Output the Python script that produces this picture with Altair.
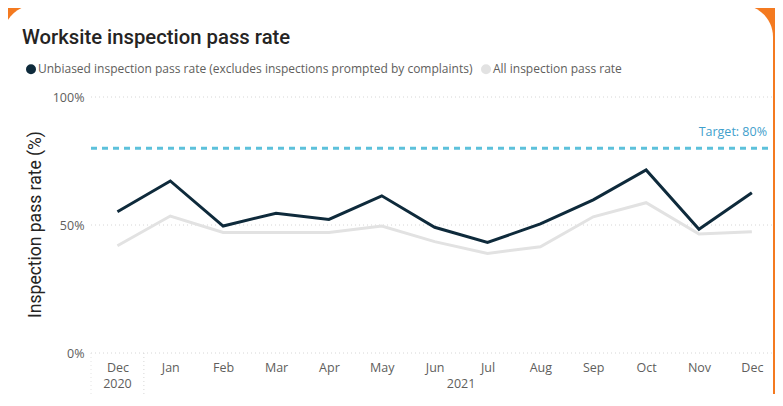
import altair as alt
import pandas as pd

# ---- data ----
months = ["Dec", "Jan", "Feb", "Mar", "Apr", "May", "Jun", "Jul", "Aug", "Sep", "Oct", "Nov", "Dec"]
years = ["2020"] + ["2021"] * 12
unbiased = [55.2, 67.2, 49.6, 54.6, 52.2, 61.4, 49.1, 43.2, 50.4, 59.8, 71.5, 48.3, 62.6]
all_rate = [41.9, 53.5, 47.1, 47.1, 47.1, 49.6, 43.5, 38.9, 41.5, 53.2, 58.7, 46.5, 47.4]
target = [80]
series_names = [
    "Unbiased inspection pass rate (excludes inspections prompted by complaints)",
    "All inspection pass rate",
]
series_colors = ["#0E2A3B", "#E2E2E2"]
y_ticks = [0, 50, 100]

idx = list(range(len(months)))
df = pd.DataFrame(
    {
        "idx": idx * 2,
        "year": years * 2,
        "value": unbiased + all_rate,
        "series": [series_names[0]] * len(idx) + [series_names[1]] * len(idx),
    }
)
df_months = pd.DataFrame({"idx": idx, "year": years})
df_target = pd.DataFrame({"target": target})
df_ticks = pd.DataFrame({"value": y_ticks})

W, H = 682, 256
ORANGE = "#F47A20"
LABEL_FONT = "Open Sans"
TITLE_FONT = "Roboto"
GRID = "#D6D6D6"

month_expr = "[" + ",".join("'%s'" % m for m in months) + "][datum.value]"

x_scale = alt.Scale(domain=[-0.5, 12.4], nice=False, zero=False)
y_scale = alt.Scale(domain=[0, 100], nice=False)

x_enc = alt.X(
    "idx:Q",
    scale=x_scale,
    axis=alt.Axis(
        values=idx,
        labelExpr=month_expr,
        title=None,
        grid=False,
        ticks=False,
        domain=False,
        labelFlush=False,
        labelOverlap=False,
        labelBound=False,
        labelColor="#605E5C",
        labelFont=LABEL_FONT,
        labelFontSize=12.5,
        labelPadding=8,
        zindex=1,
    ),
)
y_axis = alt.Axis(
    values=y_ticks,
    labelExpr="datum.value + '%'",
    grid=False,
    ticks=False,
    domain=False,
    labelColor="#605E5C",
    labelFont=LABEL_FONT,
    labelFontSize=12.5,
    labelPadding=7,
    title="Inspection pass rate (%)",
    titleFont=TITLE_FONT,
    titleFontSize=17.5,
    titleFontWeight="normal",
    titleColor="#252423",
    titleX=-56,
    titleY=127,
    titleBaseline="middle",
    titleAlign="center",
    zindex=1,
)
y_enc = alt.Y("value:Q", scale=y_scale, axis=y_axis)

color_enc = alt.Color(
    "series:N",
    scale=alt.Scale(domain=series_names, range=series_colors),
    legend=alt.Legend(
        orient="none",
        legendX=-66,
        legendY=-34,
        direction="horizontal",
        title=None,
        symbolType="circle",
        symbolSize=25,
        symbolStrokeWidth=5,
        symbolOffset=0,
        labelFont=LABEL_FONT,
        labelFontSize=12,
        labelColor="#605E5C",
        labelOffset=1,
        labelLimit=0,
        columnPadding=0,
        zindex=1,
    ),
)

card = alt.Chart(pd.DataFrame({"a": [0]})).mark_rect(
    color="white", cornerRadius=32
).encode(
    x=alt.value(-88), x2=alt.value(W), y=alt.value(-92), y2=alt.value(H + 80)
)

grid = alt.Chart(df_ticks).mark_rule(
    color=GRID, strokeDash=[1, 3], strokeWidth=1
).encode(y=y_enc, x=alt.value(0), x2=alt.value(W))

gray_line = alt.Chart(df).transform_filter(
    alt.datum.series == series_names[1]
).mark_line(strokeWidth=3).encode(x=x_enc, y=y_enc, color=color_enc)

dark_line = alt.Chart(df).transform_filter(
    alt.datum.series == series_names[0]
).mark_line(strokeWidth=3).encode(x=x_enc, y=y_enc, color=color_enc)

target_rule = alt.Chart(df_target).mark_rule(
    color="#5DC1DB", strokeWidth=3, strokeDash=[6, 5]
).encode(y=alt.Y("target:Q"), x=alt.value(0), x2=alt.value(W))

target_text = alt.Chart(df_target).transform_calculate(
    label="'Target: ' + datum.target + '%'"
).mark_text(
    align="right", baseline="bottom", dy=-9, color="#3FA0CC",
    font=LABEL_FONT, fontSize=12.5
).encode(y=alt.Y("target:Q"), x=alt.value(W - 6), text="label:N")

# year labels centred under their months
year_text = alt.Chart(df_months).transform_aggregate(
    pos="mean(idx)", groupby=["year"]
).mark_text(
    baseline="middle", color="#605E5C", font=LABEL_FONT, fontSize=12.5
).encode(x=alt.X("pos:Q"), y=alt.value(H + 31), text="year:N")

# dotted separators of the hierarchical axis
year_sep = alt.Chart(df_months).transform_filter(
    alt.datum.year == years[-1]
).transform_aggregate(
    first="min(idx)"
).transform_calculate(
    sep="datum.first - 0.5"
).mark_rule(color=GRID, strokeDash=[1, 3], strokeWidth=1).encode(
    x=alt.X("sep:Q"), y=alt.value(H), y2=alt.value(H + 42)
)
left_sep = alt.Chart(pd.DataFrame({"a": [0]})).mark_rule(
    color="#E4E4E4", strokeDash=[1, 3], strokeWidth=1
).encode(x=alt.value(0), y=alt.value(H), y2=alt.value(H + 42))

chart = alt.layer(
    card, grid, left_sep, year_sep, target_rule, target_text, gray_line, dark_line, year_text
).resolve_scale(x="shared", y="shared").properties(
    width=W,
    height=H,
    background=ORANGE,
    padding={"left": 83, "top": 89, "right": 2, "bottom": 41},
    autosize=alt.AutoSizeParams(type="none"),
    title=alt.Title(
        "Worksite inspection pass rate",
        anchor="start",
        dx=19,
        dy=53,
        fontSize=20.3,
        font=TITLE_FONT,
        fontWeight=500,
        color="#252423",
        offset=10,
        zindex=1,
    ),
).configure_view(stroke=None)

chart.save("out.html", embed_options={"renderer": "svg", "actions": False})
